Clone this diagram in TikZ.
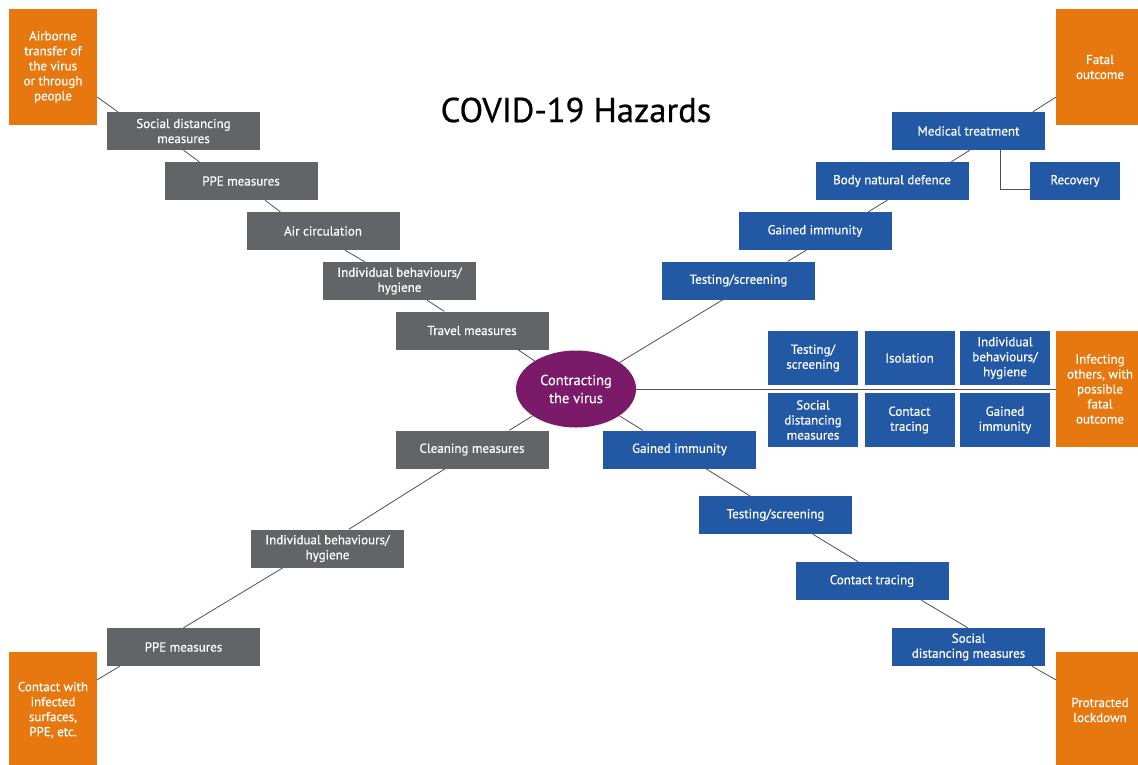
\documentclass[tikz,border=0pt]{standalone}
\usepackage{fontspec}
\setmainfont{PT Sans}[FakeBold=0.6]
\definecolor{hazgrey}{RGB}{99,100,104}
\definecolor{hazblue}{RGB}{35,88,165}
\definecolor{hazorange}{RGB}{230,120,15}
\definecolor{hazpurple}{RGB}{124,26,106}
\definecolor{hazline}{RGB}{80,80,80}
\usetikzlibrary{shapes.geometric}
\newcommand{\boxfont}{\fontsize{13}{15}\selectfont}
\tikzset{
  box/.style={rectangle, inner sep=0pt, minimum width=153pt, minimum height=38pt,
    text=white, align=center, font=\boxfont},
  greybox/.style={box, fill=hazgrey},
  bluebox/.style={box, fill=hazblue},
  cell/.style={bluebox, minimum width=90pt, minimum height=54pt},
  hazard/.style={rectangle, inner sep=0pt, minimum width=88pt, minimum height=116pt,
    fill=hazorange, text=white, align=center, font=\boxfont},
  link/.style={draw=hazline, line width=0.8pt}
}

\begin{document}
\begin{tikzpicture}[x=1pt,y=-1pt]
  \clip (0,0) rectangle (1138,764);

  \node [font=\fontsize{34.5}{40}\selectfont] (title) at (576,110) {COVID-19 Hazards};

  % outcomes
  \node [hazard] (airborne) at (53,67) {Airborne\\transfer of\\the virus\\or through\\people};
  \node [hazard] (fatal) at (1100,67) {Fatal\\outcome};
  \node [hazard] (infecting) at (1100,389) {Infecting\\others, with\\possible\\fatal\\outcome};
  \node [hazard] (contact) at (53,710) {Contact with\\infected\\surfaces,\\PPE, etc.};
  \node [hazard] (lockdown) at (1100,710) {Protracted\\lockdown};

  % centre
  \node [ellipse, fill=hazpurple, inner sep=0pt, minimum width=120pt, minimum height=77pt,
    text=white, align=center, font=\fontsize{14.5}{18}\selectfont] (virus) at (576,389) {Contracting\\the virus};

  % upper left chain
  \node [greybox] (sdA) at (183.5,131) {Social distancing\\measures};
  \node [greybox] (ppeA) at (241,181) {PPE measures};
  \node [greybox] (airc) at (323,231) {Air circulation};
  \node [greybox] (indA) at (399.5,281) {Individual behaviours/\\hygiene};
  \node [greybox] (travel) at (472,330.5) {Travel measures};

  % lower left chain
  \node [greybox] (cleaning) at (472,449.5) {Cleaning measures};
  \node [greybox] (indB) at (327.5,548.5) {Individual behaviours/\\hygiene};
  \node [greybox] (ppeB) at (183.5,647) {PPE measures};

  % upper right chain
  \node [bluebox] (testA) at (738.5,280.5) {Testing/screening};
  \node [bluebox] (gainA) at (815,231) {Gained immunity};
  \node [bluebox] (body) at (892,181) {Body natural defence};
  \node [bluebox] (medical) at (968.5,131) {Medical treatment};
  \node [bluebox, minimum width=90pt] (recovery) at (1075,181) {Recovery};

  % measures against infecting others
  \node [cell] (c1) at (813,358) {Testing/\\screening};
  \node [cell] (c2) at (909.5,358) {Isolation};
  \node [cell] (c3) at (1005,358) {Individual\\behaviours/\\hygiene};
  \node [cell] (c4) at (813,420) {Social\\distancing\\measures};
  \node [cell] (c5) at (909.5,420) {Contact\\tracing};
  \node [cell] (c6) at (1005,420) {Gained\\immunity};

  % lower right chain
  \node [bluebox] (gainB) at (679.5,449.5) {Gained immunity};
  \node [bluebox] (testB) at (775.5,515) {Testing/screening};
  \node [bluebox] (traceB) at (872,581) {Contact tracing};
  \node [bluebox] (sdB) at (968.5,647) {Social\\distancing measures};

  % links
  \draw [link] ([yshift=-30]airborne.east) -- ([xshift=11]sdA.north west);
  \draw [link] (sdA.south) -- ([xshift=35]ppeA.north west);
  \draw [link] ([xshift=24]ppeA.south) -- ([xshift=34]airc.north west);
  \draw [link] ([xshift=22]airc.south) -- ([xshift=42]indA.north west);
  \draw [link] ([xshift=27.5]indA.south) -- ([xshift=49]travel.north west);
  \draw [link] ([xshift=46]travel.south) -- (virus);

  \draw [link] (virus) -- ([xshift=114]cleaning.north west);
  \draw [link] ([xshift=-27]cleaning.south) -- ([xshift=98]indB.north west);
  \draw [link] ([xshift=-44.5]indB.south) -- (ppeB.north);
  \draw [link] ([xshift=13]ppeB.south west) -- ([yshift=-28]contact.north east);

  \draw [link] (virus) -- ([xshift=61]testA.south west);
  \draw [link] ([xshift=126]testA.north west) -- ([xshift=68]gainA.south west);
  \draw [link] ([xshift=130]gainA.north west) -- ([xshift=72]body.south west);
  \draw [link] ([xshift=136]body.north west) -- ([xshift=78]medical.south west);
  \draw [link] ([xshift=141]medical.north west) -- ([yshift=28]fatal.south west);
  \draw [link] ([xshift=109]medical.south west) |- ([yshift=-8]recovery.west);

  \draw [link] (virus.east) -- (infecting.west);

  \draw [link] (virus) -- ([xshift=40]gainB.north west);
  \draw [link] ([xshift=103]gainB.south west) -- ([xshift=51]testB.north west);
  \draw [link] ([xshift=114]testB.south west) -- ([xshift=63]traceB.north west);
  \draw [link] ([xshift=126]traceB.south west) -- ([xshift=76]sdB.north west);
  \draw [link] ([xshift=140]sdB.south west) -- ([yshift=-28]lockdown.north west);
\end{tikzpicture}
\end{document}
